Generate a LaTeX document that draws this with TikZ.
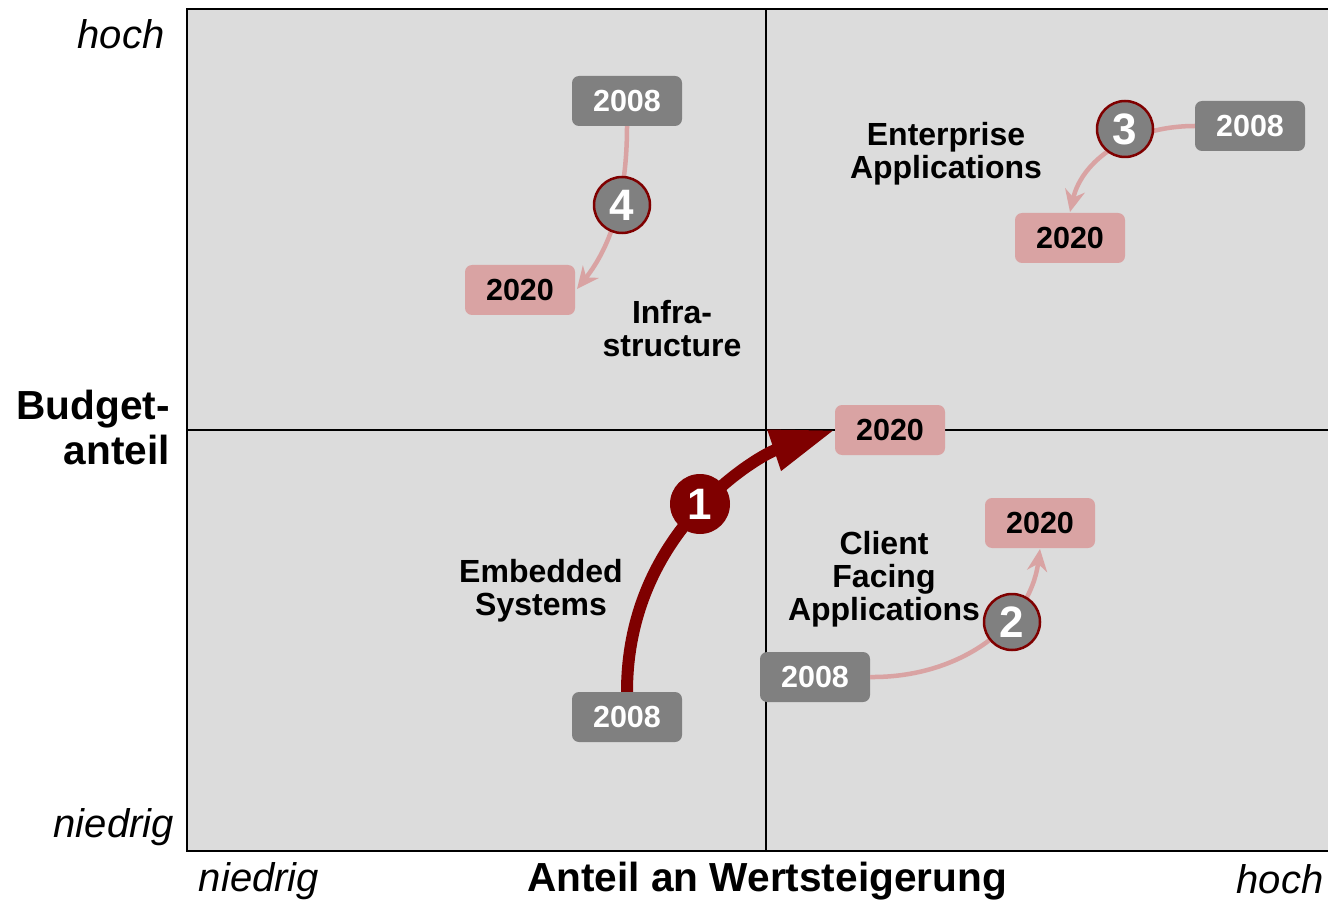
\documentclass[tikz,border=0pt]{standalone}
\usepackage{fontspec}
\setmainfont{Liberation Sans}
\usetikzlibrary{arrows.meta}
\definecolor{plotbg}{HTML}{DCDCDC}
\definecolor{boxgray}{HTML}{808080}
\definecolor{boxpink}{HTML}{D9A3A3}
\definecolor{darkred}{HTML}{7F0000}
\tikzset{
  yearold/.style={fill=boxgray, text=white, rounded corners=7pt, minimum width=110pt, minimum height=50pt, inner sep=0pt, font=\fontsize{30.5}{34}\selectfont\bfseries},
  yearnew/.style={fill=boxpink, text=black, rounded corners=7pt, minimum width=110pt, minimum height=50pt, inner sep=0pt, font=\fontsize{30.5}{34}\selectfont\bfseries},
  numcirc/.style={circle, fill=boxgray, draw=darkred, line width=2.5pt, minimum size=56pt, inner sep=0pt, text=white, font=\fontsize{44}{44}\selectfont\bfseries},
  numcircred/.style={circle, fill=darkred, minimum size=60pt, inner sep=0pt, text=white, font=\fontsize{44}{44}\selectfont\bfseries},
  quadlabel/.style={align=center, font=\fontsize{32}{33}\selectfont\bfseries, inner sep=0pt},
  axislabel/.style={font=\fontsize{40}{40}\selectfont\itshape, inner sep=0pt},
  axistitle/.style={font=\fontsize{40.6}{45}\selectfont\bfseries, inner sep=0pt},
  thinarrow/.style={draw=boxpink, line width=4.5pt, -{Stealth[length=22pt,width=20pt]}},
  thickarrow/.style={draw=darkred, line width=12pt, -{Triangle[length=64pt,width=40pt]}},
}
\begin{document}
\begin{tikzpicture}[x=1pt,y=-1pt]
\useasboundingbox (0,0) rectangle (1328,901);
% plot area
\fill[plotbg] (187,9) rectangle (1328,851);
\draw[line width=2.5pt] (1328,9) -- (187,9) -- (187,851) -- (1328,851);
\draw[line width=2pt] (766,9) -- (766,851);
\draw[line width=2pt] (187,430) -- (1328,430);

% axis labels
\node[axislabel] (yhigh) at (121,34) {hoch};
\node[axislabel, anchor=east] (ylow) at (174,827) {niedrig};
\node[axistitle, align=right, anchor=east] (ytitle) at (170,427) {Budget-\\anteil};
\node[axislabel] (xlow) at (259,881) {niedrig};
\node[axistitle] (xtitle) at (767,881) {Anteil an Wertsteigerung};
\node[axislabel] (xhigh) at (1280,879) {hoch};

% quadrant labels
\node[quadlabel] (infra) at (672,329) {Infra-\\structure};
\node[quadlabel] (ent) at (946,154) {Enterprise\\Applications};
\node[quadlabel] (emb) at (541,591) {Embedded\\Systems};
\node[quadlabel] (cfa) at (884,579) {Client\\Facing\\Applications};

% year boxes
\node[yearold] (o4) at (627,101) {2008};
\node[yearnew] (n4) at (520,290) {2020};
\node[yearold] (o3) at (1250,126) {2008};
\node[yearnew] (n3) at (1070,238) {2020};
\node[yearnew] (n1) at (890,430) {2020};
\node[yearold] (o1) at (627,717) {2008};
\node[yearnew] (n2) at (1040,523) {2020};
\node[yearold] (o2) at (815,677) {2008};

% arrows
\draw[thinarrow] (o4.south) .. controls (627,195) and (612,245) .. (577,289);
\draw[thinarrow] (o3.west) .. controls (1130,126) and (1082,160) .. (1070,212);
\draw[thinarrow] (o2.east) .. controls (960,678) and (1030,625) .. (1040,549);
\draw[thickarrow] (o1.north) .. controls (627,530) and (760,455) .. (n1.west);

% number circles
\node[numcirc] (c4) at (622,205) {4};
\node[numcirc] (c3) at (1125,129) {3};
\node[numcirc] (c2) at (1012,622) {2};
\node[numcircred] (c1) at (700,504) {1};
\end{tikzpicture}
\end{document}
